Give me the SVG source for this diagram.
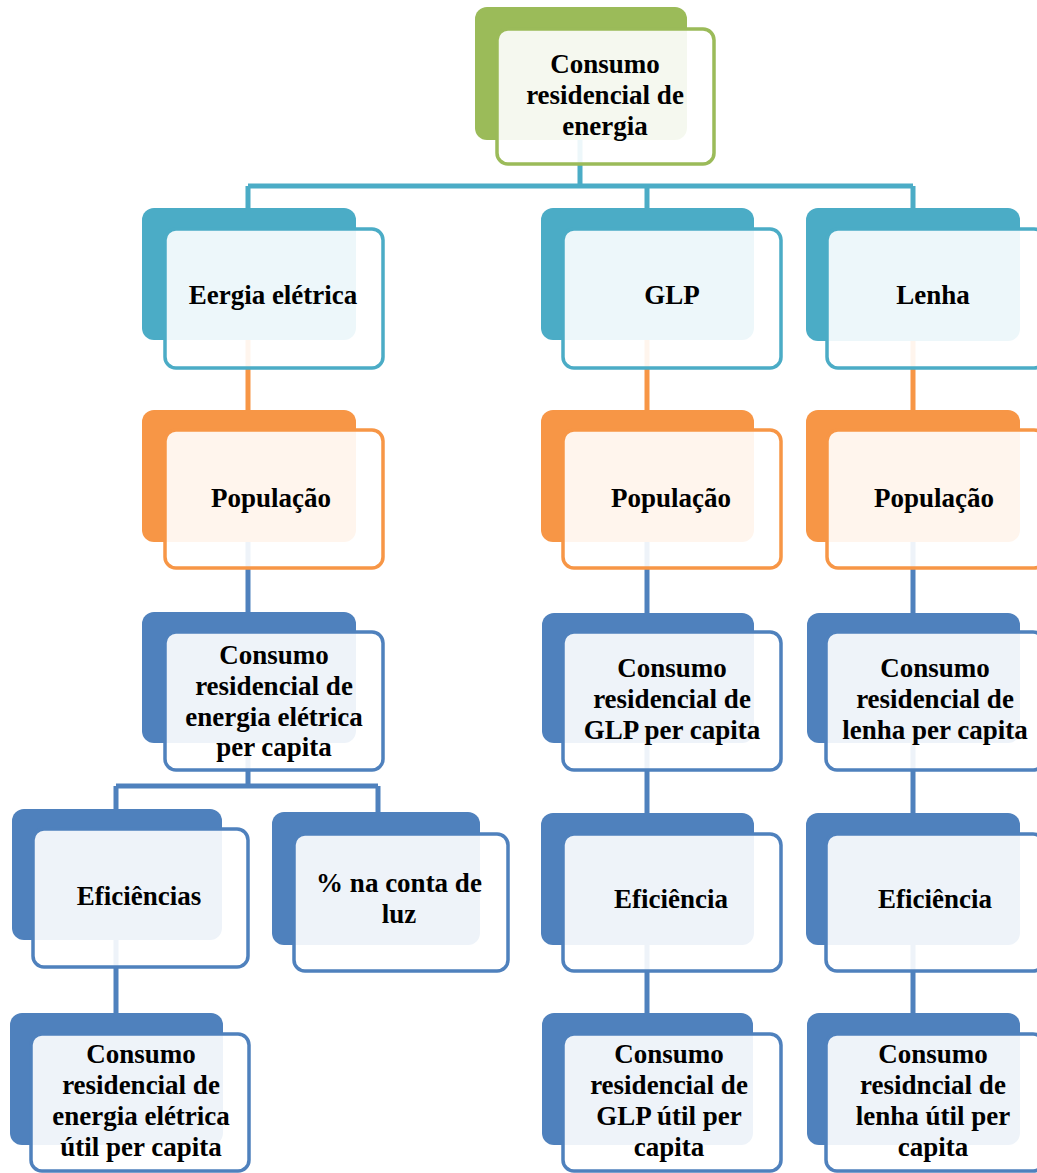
<svg xmlns="http://www.w3.org/2000/svg" width="1037" height="1173" viewBox="0 0 1037 1173">
<style>
.bk{stroke:none}
.fr{fill:#ffffff;fill-opacity:0.9;stroke-width:3.5}
.g .bk{fill:#9BBB59}.g .fr{stroke:#9BBB59}
.t .bk{fill:#4BACC6}.t .fr{stroke:#4BACC6}
.o .bk{fill:#F79646}.o .fr{stroke:#F79646}
.b .bk{fill:#4F81BD}.b .fr{stroke:#4F81BD}
text{font-family:"Liberation Serif","Times New Roman",serif;font-size:27px;font-weight:bold;fill:#000;text-anchor:middle}
#connectors path{fill:none;stroke-width:5}
</style>
<rect width="1037" height="1173" fill="#ffffff"/>
<g id="connectors">
<path d="M580 140V186M248 186H913M248 186V210M647 186V210M913 186V210" stroke="#4BACC6"/>
<path d="M248 340V412M647 340V412M913 340V412" stroke="#F79646"/>
<path d="M248 542V614M647 542V614M913 542V614" stroke="#4F81BD"/>
<path d="M647 743V814M913 743V814M248 743V786M116 786H378M116 786V811M378 786V814" stroke="#4F81BD"/>
<path d="M116 940V1015M647 944V1015M913 944V1015" stroke="#4F81BD"/>
</g>
<g id="n-top" class="g">
<rect class="bk" x="475" y="7" width="212" height="133" rx="12"/>
<rect class="fr" x="497" y="29" width="217" height="135" rx="11"/>
<text x="605" y="73">Consumo</text><text x="605" y="104">residencial de</text><text x="605" y="135">energia</text>
</g>
<g id="n-eletrica" class="t">
<rect class="bk" x="142" y="208" width="214" height="132" rx="12"/>
<rect class="fr" x="165" y="229" width="218" height="139" rx="11"/>
<text x="273" y="304">Eergia elétrica</text>
</g>
<g id="n-glp" class="t">
<rect class="bk" x="541" y="208" width="213" height="132" rx="12"/>
<rect class="fr" x="563" y="229" width="218" height="139" rx="11"/>
<text x="672" y="304">GLP</text>
</g>
<g id="n-lenha" class="t">
<rect class="bk" x="806" y="208" width="214" height="133" rx="12"/>
<rect class="fr" x="827" y="229" width="218" height="139" rx="11"/>
<text x="933" y="304">Lenha</text>
</g>
<g id="n-pop1" class="o">
<rect class="bk" x="142" y="410" width="214" height="132" rx="12"/>
<rect class="fr" x="165" y="430" width="218" height="138" rx="11"/>
<text x="271" y="507">População</text>
</g>
<g id="n-pop2" class="o">
<rect class="bk" x="541" y="410" width="213" height="132" rx="12"/>
<rect class="fr" x="563" y="430" width="218" height="138" rx="11"/>
<text x="671" y="507">População</text>
</g>
<g id="n-pop3" class="o">
<rect class="bk" x="806" y="410" width="214" height="132" rx="12"/>
<rect class="fr" x="827" y="430" width="218" height="138" rx="11"/>
<text x="934" y="507">População</text>
</g>
<g id="n-cons-el" class="b">
<rect class="bk" x="142" y="612" width="214" height="131" rx="12"/>
<rect class="fr" x="165" y="632" width="218" height="138" rx="11"/>
<text x="274" y="664">Consumo</text><text x="274" y="695">residencial de</text><text x="274" y="726">energia elétrica</text><text x="274" y="756">per capita</text>
</g>
<g id="n-cons-glp" class="b">
<rect class="bk" x="542" y="613" width="212" height="130" rx="12"/>
<rect class="fr" x="563" y="632" width="218" height="138" rx="11"/>
<text x="672" y="677">Consumo</text><text x="672" y="708">residencial de</text><text x="672" y="739">GLP per capita</text>
</g>
<g id="n-cons-lenha" class="b">
<rect class="bk" x="807" y="613" width="213" height="130" rx="12"/>
<rect class="fr" x="826" y="632" width="218" height="138" rx="11"/>
<text x="935" y="677">Consumo</text><text x="935" y="708">residencial de</text><text x="935" y="739">lenha per capita</text>
</g>
<g id="n-eficiencias" class="b">
<rect class="bk" x="12" y="809" width="210" height="131" rx="12"/>
<rect class="fr" x="33" y="829" width="215" height="138" rx="11"/>
<text x="139" y="905">Eficiências</text>
</g>
<g id="n-conta" class="b">
<rect class="bk" x="272" y="812" width="208" height="133" rx="12"/>
<rect class="fr" x="294" y="834" width="214" height="137" rx="11"/>
<text x="399" y="892">% na conta de</text><text x="399" y="923">luz</text>
</g>
<g id="n-ef-glp" class="b">
<rect class="bk" x="541" y="813" width="213" height="132" rx="12"/>
<rect class="fr" x="563" y="834" width="218" height="137" rx="11"/>
<text x="671" y="908">Eficiência</text>
</g>
<g id="n-ef-lenha" class="b">
<rect class="bk" x="806" y="813" width="214" height="132" rx="12"/>
<rect class="fr" x="826" y="834" width="218" height="137" rx="11"/>
<text x="935" y="908">Eficiência</text>
</g>
<g id="n-util-el" class="b">
<rect class="bk" x="10" y="1013" width="213" height="132" rx="12"/>
<rect class="fr" x="31" y="1034" width="218" height="137" rx="11"/>
<text x="141" y="1063">Consumo</text><text x="141" y="1094">residencial de</text><text x="141" y="1125">energia elétrica</text><text x="141" y="1156">útil per capita</text>
</g>
<g id="n-util-glp" class="b">
<rect class="bk" x="542" y="1013" width="211" height="132" rx="12"/>
<rect class="fr" x="563" y="1034" width="218" height="137" rx="11"/>
<text x="669" y="1063">Consumo</text><text x="669" y="1094">residencial de</text><text x="669" y="1125">GLP útil per</text><text x="669" y="1156">capita</text>
</g>
<g id="n-util-lenha" class="b">
<rect class="bk" x="807" y="1013" width="213" height="132" rx="12"/>
<rect class="fr" x="826" y="1034" width="218" height="137" rx="11"/>
<text x="933" y="1063">Consumo</text><text x="933" y="1094">residncial de</text><text x="933" y="1125">lenha útil per</text><text x="933" y="1156">capita</text>
</g>
</svg>
